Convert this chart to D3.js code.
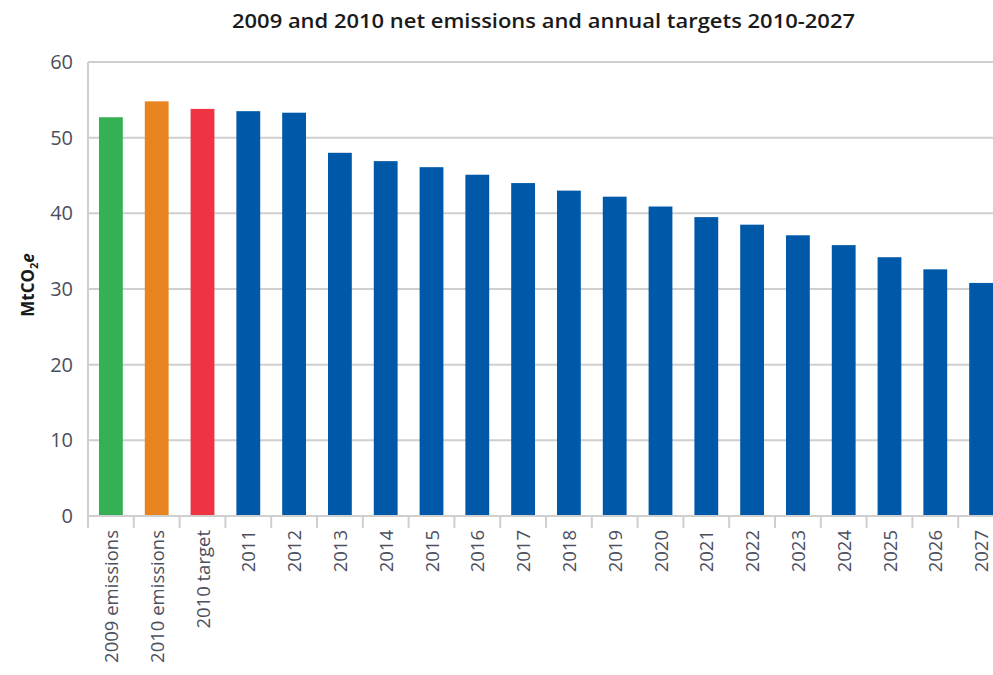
<!DOCTYPE html>
<html>
<head>
<meta charset="utf-8">
<script src="https://cdn.jsdelivr.net/npm/d3@7"></script>
<style>
  html, body { margin: 0; padding: 0; background: #fff; }
  svg { display: block; }
</style>
</head>
<body>
<svg id="chart" width="993" height="675"></svg>
<script>
const categories = ["2009 emissions", "2010 emissions", "2010 target",
  "2011", "2012", "2013", "2014", "2015", "2016", "2017", "2018", "2019",
  "2020", "2021", "2022", "2023", "2024", "2025", "2026", "2027"];
const values = [52.7, 54.8, 53.8, 53.5, 53.3, 48.0, 46.9, 46.1, 45.1, 44.0,
  43.0, 42.2, 40.9, 39.5, 38.5, 37.1, 35.8, 34.2, 32.6, 30.8];
const barColors = ["#36b054", "#e8841f", "#ee3342"];
const defaultColor = "#0059a8";
const yTicks = [0, 10, 20, 30, 40, 50, 60];
const title = "2009 and 2010 net emissions and annual targets 2010-2027";

const svg = d3.select("#chart");
const mLeft = 88, mRight = 1004, mTop = 62, mBottom = 516;

const x = d3.scaleBand().domain(categories).range([mLeft, mRight]).paddingInner(0.48).paddingOuter(0.24);
const y = d3.scaleLinear().domain([0, 60]).range([mBottom, mTop]);

const textColor = "#4b4f5e";
const gridColor = "#cfcfcf";

// gridlines
svg.append("g").selectAll("line").data(yTicks.filter(d => d > 0)).join("line")
  .attr("x1", mLeft).attr("x2", 993)
  .attr("y1", d => y(d)).attr("y2", d => y(d))
  .attr("stroke", gridColor).attr("stroke-width", 2);

// bars
svg.append("g").selectAll("rect").data(values).join("rect")
  .attr("x", (d, i) => x(categories[i]))
  .attr("width", x.bandwidth())
  .attr("y", d => y(d))
  .attr("height", d => y(0) - y(d))
  .attr("fill", (d, i) => barColors[i] || defaultColor);

// y axis
const yAxis = svg.append("g").attr("transform", `translate(${mLeft},0)`)
  .call(d3.axisLeft(y).tickValues(yTicks).tickSize(0).tickPadding(15).tickFormat(d3.format("d")));
yAxis.select(".domain").attr("stroke", gridColor).attr("stroke-width", 2)
  .attr("d", `M0,${mTop}V${mBottom + 12}`);
yAxis.selectAll("text").attr("font-family", "'Open Sans', sans-serif")
  .attr("font-size", 20).attr("fill", textColor);

// x axis
const step = x.step();
const gap = (step - x.bandwidth()) / 2;
const xAxis = svg.append("g").attr("transform", `translate(0,${mBottom})`);
xAxis.append("line").attr("x1", mLeft).attr("x2", 993).attr("y1", 0).attr("y2", 0)
  .attr("stroke", gridColor).attr("stroke-width", 2);
xAxis.selectAll("line.tick").data(categories).join("line").attr("class", "tick")
  .attr("x1", d => x(d) - gap)
  .attr("x2", d => x(d) - gap)
  .attr("y1", 0).attr("y2", 12)
  .attr("stroke", gridColor).attr("stroke-width", 2);
xAxis.selectAll("text").data(categories).join("text")
  .attr("transform", d => `translate(${x(d) + x.bandwidth() / 2 + 7},14) rotate(-90)`)
  .attr("text-anchor", "end")
  .attr("font-family", "'Open Sans', sans-serif")
  .attr("font-size", 18.5)
  .attr("fill", textColor)
  .text(d => d);

// title
svg.append("text")
  .attr("x", 543.5).attr("y", 28)
  .attr("text-anchor", "middle")
  .attr("font-family", "'Open Sans', sans-serif")
  .attr("font-weight", 600)
  .attr("font-size", 19)
  .attr("fill", "#1a1a1a")
  .attr("textLength", 623).attr("lengthAdjust", "spacingAndGlyphs")
  .text(title);

// y axis title
const yt = svg.append("text")
  .attr("transform", "translate(34,285) rotate(-90)")
  .attr("text-anchor", "middle")
  .attr("font-family", "'Open Sans', sans-serif")
  .attr("font-weight", 700)
  .attr("font-size", 17)
  .attr("fill", "#1a1a1a");
yt.append("tspan").text("MtCO");
yt.append("tspan").attr("font-size", 11).attr("dy", 4).text("2");
yt.append("tspan").attr("dy", -4).attr("font-style", "italic").text("e");
</script>
</body>
</html>
